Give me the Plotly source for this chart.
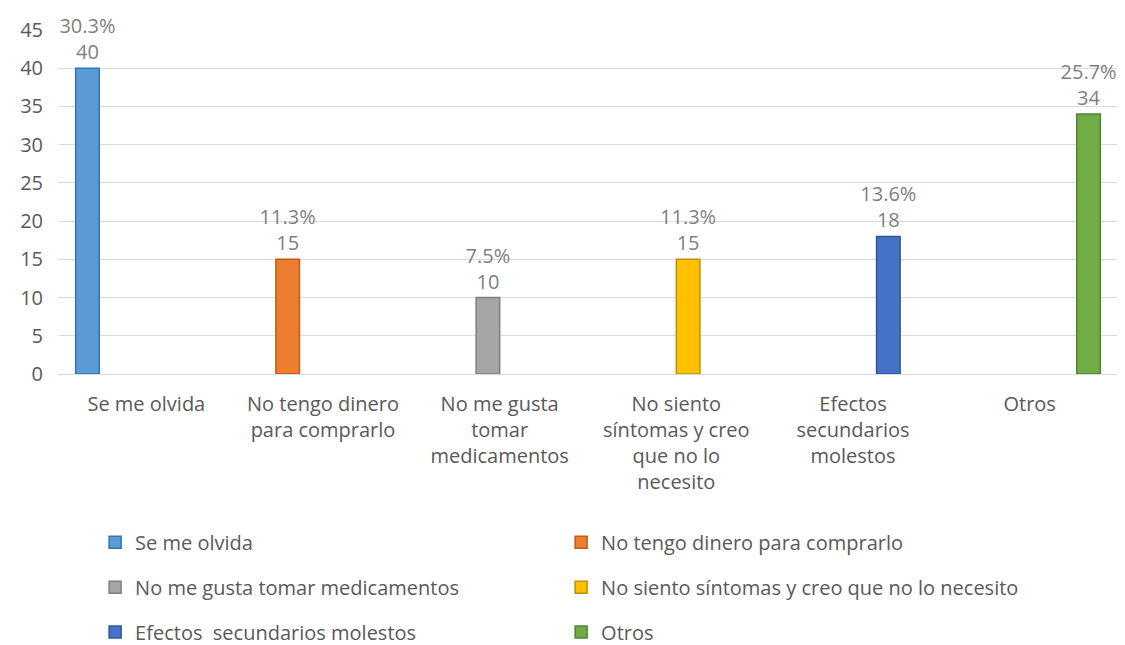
import plotly.graph_objects as go

# categories (axis labels wrapped like the original) and legend names
categories = ["Se me olvida", "No tengo dinero<br>para comprarlo", "No me gusta<br>tomar<br>medicamentos",
              "No siento<br>síntomas y creo<br>que no lo<br>necesito", "Efectos<br>secundarios<br>molestos", "Otros"]
names = ["Se me olvida", "No tengo dinero para comprarlo", "No me gusta tomar medicamentos",
         "No siento síntomas y creo que no lo necesito", "Efectos&nbsp; secundarios molestos", "Otros"]
counts = [40, 15, 10, 15, 18, 34]
percents = ["30.3%", "11.3%", "7.5%", "11.3%", "13.6%", "25.7%"]

fills = ["#5B9BD5", "#ED7D31", "#A5A5A5", "#FFC000", "#4472C4", "#70AD47"]
edges = ["#2E75B6", "#C55A11", "#7F7F7F", "#BF9000", "#2F5597", "#538135"]
legend_ids = ["legend", "legend", "legend2", "legend2", "legend3", "legend3"]

FONT = "Open Sans"
GRAY = "#595959"
SIZE = 20

fig = go.Figure()
for i, name in enumerate(names):
    y = [None] * len(categories)
    y[i] = counts[i]
    txt = [""] * len(categories)
    txt[i] = f"{percents[i]}<br>{counts[i]}"
    fig.add_trace(go.Bar(
        x=categories, y=y, name=name,
        marker=dict(color=fills[i], line=dict(color=edges[i], width=1.5)),
        text=txt, textposition="outside", cliponaxis=False, constraintext="none",
        textfont=dict(size=SIZE, color="#7F7F7F", family=FONT),
        legend=legend_ids[i],
    ))

leg = dict(orientation="h", x=0.035, xanchor="left", yanchor="middle",
           entrywidth=421, entrywidthmode="pixels", traceorder="normal",
           font=dict(size=SIZE, color=GRAY, family=FONT), bgcolor="rgba(0,0,0,0)")

# page body adds 8px margin, so the figure is 8px smaller than the window
fig.update_layout(
    width=1117, height=637,
    margin=dict(l=50, r=7, t=22, b=271, autoexpand=False),
    plot_bgcolor="white", paper_bgcolor="white",
    barmode="group", bargap=0.2, bargroupgap=0,
    font=dict(family=FONT, size=SIZE, color=GRAY),
    legend=dict(leg, y=-0.489),
    legend2=dict(leg, y=-0.620),
    legend3=dict(leg, y=-0.750),
)
fig.update_yaxes(range=[0, 45], dtick=5, showgrid=True, gridcolor="#D9D9D9", gridwidth=1,
                 zeroline=False, showline=False, ticks="", ticklabelstandoff=14,
                 tickfont=dict(size=SIZE, color=GRAY))
fig.update_xaxes(showline=True, linecolor="#D9D9D9", ticks="", tickangle=0, ticklabelstandoff=12,
                 tickfont=dict(size=SIZE, color=GRAY))

fig.write_html("out.html")
